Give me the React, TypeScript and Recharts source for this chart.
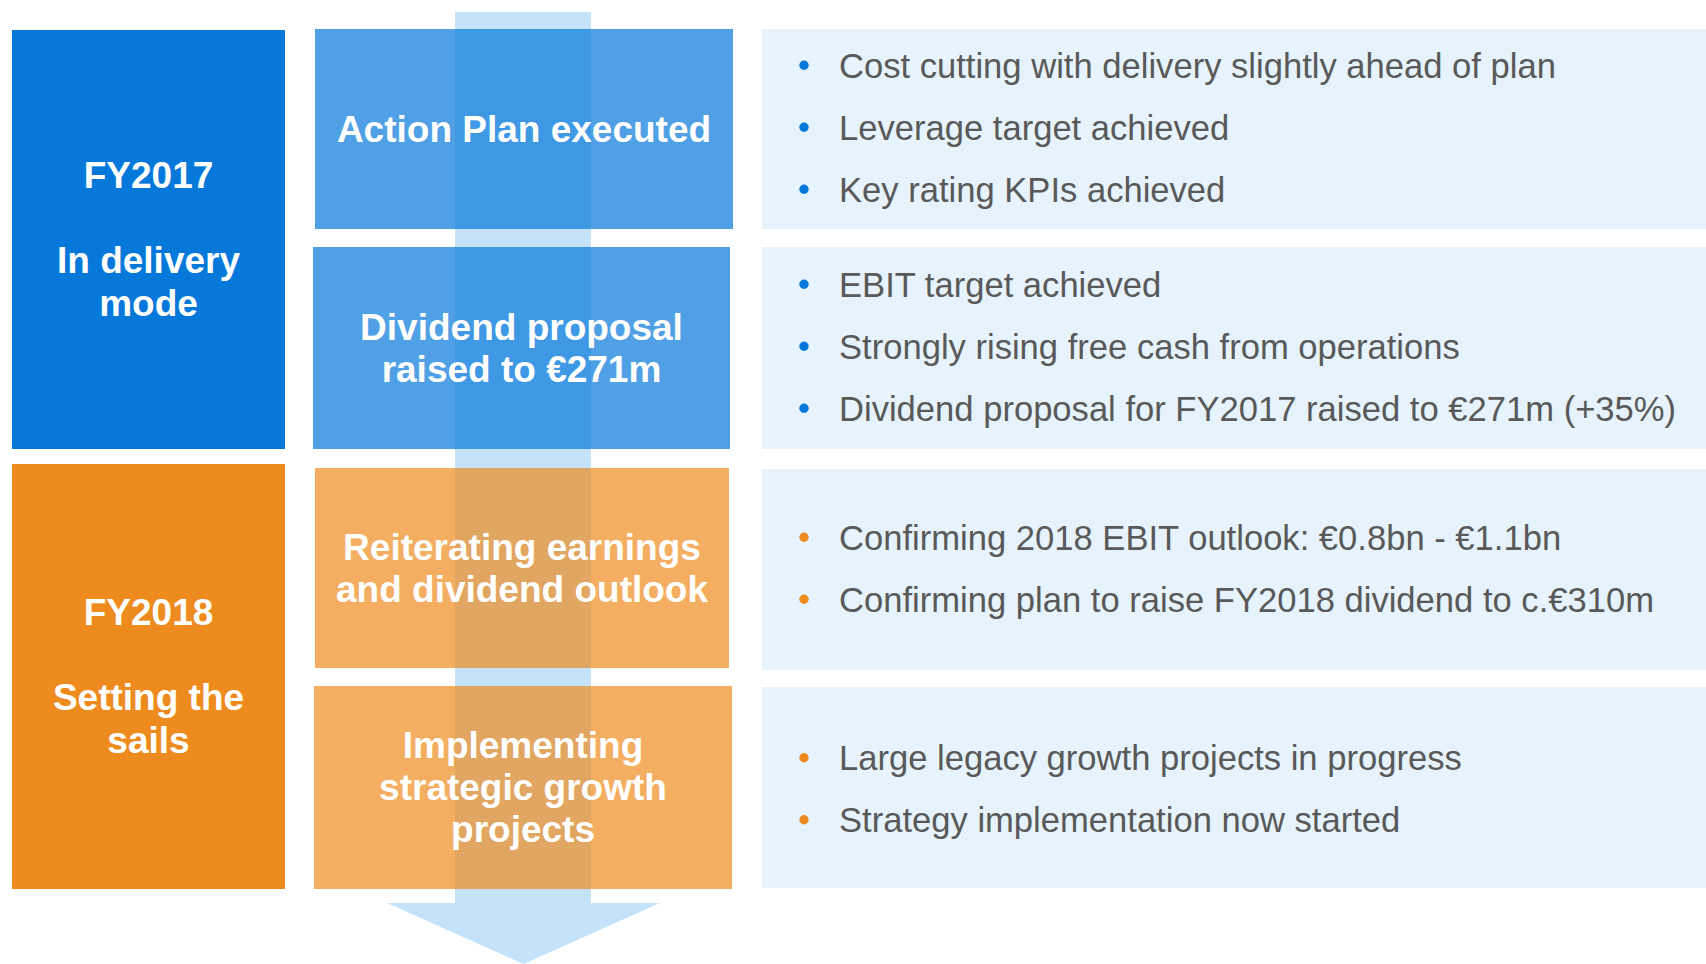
import React from "react";
import { ComposedChart, XAxis, YAxis, ReferenceArea } from "recharts";

// ---- content ----
const phaseLabels: string[][] = [
  ["FY2017", "", "In delivery", "mode"],
  ["FY2018", "", "Setting the", "sails"],
];
const actionLabels: string[][] = [
  ["Action Plan executed"],
  ["Dividend proposal", "raised to €271m"],
  ["Reiterating earnings", "and dividend outlook"],
  ["Implementing", "strategic growth", "projects"],
];
const bulletGroups: string[][] = [
  [
    "Cost cutting with delivery slightly ahead of plan",
    "Leverage target achieved",
    "Key rating KPIs achieved",
  ],
  [
    "EBIT target achieved",
    "Strongly rising free cash from operations",
    "Dividend proposal for FY2017 raised to €271m (+35%)",
  ],
  [
    "Confirming 2018 EBIT outlook: €0.8bn - €1.1bn",
    "Confirming plan to raise FY2018 dividend to c.€310m",
  ],
  [
    "Large legacy growth projects in progress",
    "Strategy implementation now started",
  ],
];
const groupPhase: number[] = [0, 0, 1, 1];

// ---- layout (diagram coordinates) ----
const W = 1706;
const H = 964;
const phaseBoxes = [
  { x1: 12, x2: 285, y1: 30, y2: 449 },
  { x1: 12, x2: 285, y1: 464, y2: 889 },
];
const actionBoxes = [
  { x1: 315, x2: 733, y1: 29, y2: 229 },
  { x1: 313, x2: 730, y1: 247, y2: 449 },
  { x1: 315, x2: 729, y1: 468, y2: 668 },
  { x1: 314, x2: 732, y1: 686, y2: 889 },
];
const panelBoxes = [
  { x1: 762, x2: 1706, y1: 29, y2: 229 },
  { x1: 762, x2: 1706, y1: 247, y2: 449 },
  { x1: 762, x2: 1706, y1: 469, y2: 670 },
  { x1: 762, x2: 1706, y1: 687, y2: 888 },
];
const panelTextShift = [0.5, 0.5, 1, 3.5];
const arrowShaft = { x1: 455, x2: 591, y1: 12, y2: 903 };
const arrowHead = { x1: 387, x2: 660, y1: 903, y2: 964 };

const phaseColors = ["#0578DA", "#EE8B1F"];
const arrowColor = "#C4E3FA";
const panelColor = "#E6F3FC";
const textGray = "#595959";
const FONT = "'Liberation Sans', Arial, Helvetica, sans-serif";

const centeredLabel = (lines: string[], lh: number, fill: string, opacity: number) =>
  (props: any) => {
    const { x, y, width, height } = props;
    const cx = x + width / 2;
    const cy = y + height / 2;
    const first = cy - (lines.length * lh) / 2 + lh / 2 + 12.5;
    return (
      <g>
        <rect x={x} y={y} width={width} height={height} fill={fill} fillOpacity={opacity} />
        <text
          textAnchor="middle"
          fontFamily={FONT}
          fontWeight="bold"
          fontSize={37}
          fill="#FFFFFF"
        >
          {lines.map((l, i) => (
            <tspan key={i} x={cx} y={first + i * lh}>
              {l}
            </tspan>
          ))}
        </text>
      </g>
    );
  };

const bulletPanel = (lines: string[], bulletColor: string, shift: number) => (props: any) => {
  const { x, y, width, height } = props;
  const cy = y + height / 2;
  const lh = 62;
  const first = cy - ((lines.length - 1) * lh) / 2 + 10 + shift;
  return (
    <g>
      <rect x={x} y={y} width={width} height={height} fill={panelColor} />
      {lines.map((l, i) => (
        <g key={i}>
          <circle cx={x + 42} cy={first + i * lh - 12.3} r={4.7} fill={bulletColor} />
          <text
            x={x + 77}
            y={first + i * lh}
            fontFamily={FONT}
            fontSize={34.6}
            fill={textGray}
          >
            {l}
          </text>
        </g>
      ))}
    </g>
  );
};

const triangleShape = (props: any) => {
  const { x, y, width, height } = props;
  const d = `M${x},${y} L${x + width},${y} L${x + width / 2},${y + height} Z`;
  return <path d={d} fill={arrowColor} />;
};

export default function App() {
  return (
    <div style={{ position: "absolute", left: 0, top: 0, width: W, height: H, background: "#fff" }}>
      <ComposedChart
        width={W}
        height={H}
        data={[{ x: 0, y: 0 }]}
        margin={{ top: 0, right: 0, bottom: 0, left: 0 }}
      >
        <XAxis type="number" dataKey="x" domain={[0, W]} allowDataOverflow hide />
        <YAxis type="number" dataKey="y" domain={[0, H]} allowDataOverflow reversed hide />

        {panelBoxes.map((b, i) => (
          <ReferenceArea
            key={`p${i}`}
            {...b}
            ifOverflow="visible"
            shape={bulletPanel(bulletGroups[i], phaseColors[groupPhase[i]], panelTextShift[i])}
          />
        ))}

        {phaseBoxes.map((b, i) => (
          <ReferenceArea
            key={`ph${i}`}
            {...b}
            ifOverflow="visible"
            shape={centeredLabel(phaseLabels[i], 42.5, phaseColors[i], 1)}
          />
        ))}

        <ReferenceArea {...arrowShaft} ifOverflow="visible" fill={arrowColor} fillOpacity={1} strokeWidth={0} />
        <ReferenceArea {...arrowHead} ifOverflow="visible" shape={triangleShape} />

        {actionBoxes.map((b, i) => (
          <ReferenceArea
            key={`a${i}`}
            {...b}
            ifOverflow="visible"
            shape={centeredLabel(actionLabels[i], 42, phaseColors[groupPhase[i]], 0.7)}
          />
        ))}
      </ComposedChart>
    </div>
  );
}
